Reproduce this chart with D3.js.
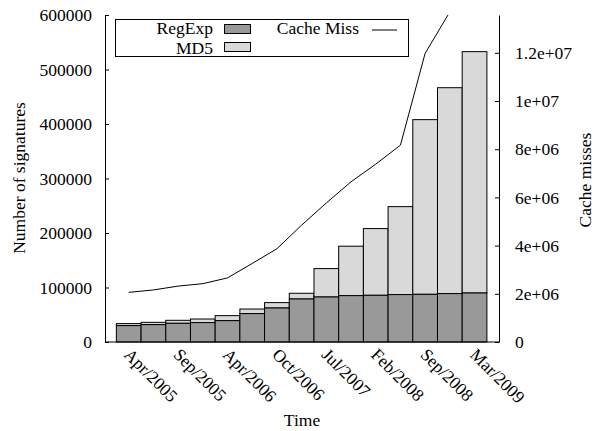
<!DOCTYPE html>
<html>
<head>
<meta charset="utf-8">
<script src="https://cdn.jsdelivr.net/npm/d3@7"></script>
<style>
  body { margin: 0; background: #fff; }
  svg text { font-family: "Liberation Serif", "Times New Roman", serif; fill: #000; }
</style>
</head>
<body>
<script>
// ********************** DATA **********************
var months = ["Apr/2005", "", "Sep/2005", "", "Apr/2006", "", "Oct/2006", "",
              "Jul/2007", "", "Feb/2008", "", "Sep/2008", "", "Mar/2009"];
var regexp = [30100, 31900, 34300, 35600, 39200, 52100, 62400, 78900,
              82600, 85100, 85700, 87000, 87500, 88800, 89900];
var total  = [33800, 36100, 39800, 42200, 48400, 60500, 72300, 89400,
              134700, 175800, 208100, 248400, 408000, 466600, 532800];
var cacheMiss = [2.06e6, 2.16e6, 2.32e6, 2.42e6, 2.66e6, 3.26e6, 3.87e6, 4.85e6,
                 5.77e6, 6.65e6, 7.38e6, 8.17e6, 11.98e6, 13.7e6, 16.0e6];
var leftTicks = [0, 100000, 200000, 300000, 400000, 500000, 600000];
var rightTicks = [0, 2e6, 4e6, 6e6, 8e6, 10e6, 12e6];
var rightLabels = ["0", "2e+06", "4e+06", "6e+06", "8e+06", "1e+07", "1.2e+07"];

// ********************** LAYOUT **********************
var width = 599, height = 431;
var plotLeft = 105, plotRight = 499, plotTop = 15, plotBottom = 342;
var fontSize = "17.5px";
var serif = "'Liberation Serif', 'Times New Roman', serif";

var svg = d3.select("body").append("svg")
    .attr("width", width)
    .attr("height", height)
    .attr("font-family", serif);

var x = d3.scaleLinear()
    .domain([-0.96, 14.99])
    .range([plotLeft, plotRight]);
var y = d3.scaleLinear()
    .domain([0, 600000])
    .range([plotBottom, plotTop]);
var y2 = d3.scaleLinear()
    .domain([0, 1.357e7])
    .range([plotBottom, plotTop]);

var barW = x(1) - x(0);

svg.append("clipPath").attr("id", "plot-clip")
  .append("rect")
  .attr("x", plotLeft).attr("y", plotTop)
  .attr("width", plotRight - plotLeft).attr("height", plotBottom - plotTop);

// MD5 part (stacked on top of regexp)
svg.selectAll("rect.md5")
  .data(total)
  .enter().append("rect")
  .attr("class", "md5")
  .attr("x", (d, i) => x(i) - barW / 2)
  .attr("y", d => y(d))
  .attr("width", barW)
  .attr("height", (d, i) => y(regexp[i]) - y(d))
  .attr("fill", "#d9d9d9")
  .attr("stroke", "#000")
  .attr("stroke-width", 1);

// RegExp part
svg.selectAll("rect.regexp")
  .data(regexp)
  .enter().append("rect")
  .attr("class", "regexp")
  .attr("x", (d, i) => x(i) - barW / 2)
  .attr("y", d => y(d))
  .attr("width", barW)
  .attr("height", d => plotBottom - y(d))
  .attr("fill", "#999999")
  .attr("stroke", "#000")
  .attr("stroke-width", 1);

// Cache miss line
var line = d3.line()
  .x((d, i) => x(i))
  .y(d => y2(d));

svg.append("path")
  .datum(cacheMiss)
  .attr("clip-path", "url(#plot-clip)")
  .attr("d", line)
  .attr("fill", "none")
  .attr("stroke", "#000")
  .attr("stroke-width", 1);

// ********************** AXES **********************
var leftAxis = svg.append("g")
  .attr("transform", "translate(" + plotLeft + ",0)")
  .call(d3.axisLeft(y).tickValues(leftTicks).tickSizeInner(-4).tickSizeOuter(0).tickPadding(13)
    .tickFormat(d3.format("d")));

var rightAxis = svg.append("g")
  .attr("transform", "translate(" + plotRight + ",0)")
  .call(d3.axisRight(y2).tickValues(rightTicks).tickSizeInner(-4).tickSizeOuter(0).tickPadding(16)
    .tickFormat((d, i) => rightLabels[i]));

[leftAxis, rightAxis].forEach(function(g) {
  g.attr("font-family", serif).attr("font-size", fontSize);
  g.select(".domain").attr("stroke", "#000");
  g.selectAll(".tick line").attr("stroke", "#000");
  g.selectAll(".tick text").style("font-family", serif);
});

// bottom axis line
svg.append("line")
  .attr("x1", plotLeft).attr("x2", plotRight)
  .attr("y1", plotBottom).attr("y2", plotBottom)
  .attr("stroke", "#000");

// x labels, rotated
svg.selectAll("text.xlabel")
  .data(months)
  .enter().append("text")
  .attr("class", "xlabel")
  .attr("transform", (d, i) => "translate(" + (x(i) + 3) + "," + (plotBottom + 5) + ") rotate(45)")
  .attr("text-anchor", "start")
  .attr("dy", "0.7em")
  .style("font-size", fontSize)
  .text(d => d);

// axis titles
svg.append("text")
  .attr("x", 302)
  .attr("y", 426)
  .attr("text-anchor", "middle")
  .style("font-size", fontSize)
  .text("Time");

svg.append("text")
  .attr("transform", "translate(25,178) rotate(-90)")
  .attr("text-anchor", "middle")
  .style("font-size", fontSize)
  .text("Number of signatures");

svg.append("text")
  .attr("transform", "translate(591,180) rotate(-90)")
  .attr("text-anchor", "middle")
  .style("font-size", fontSize)
  .text("Cache misses");

// ********************** LEGEND **********************
var legend = svg.append("g");
legend.append("rect")
  .attr("x", 115.5).attr("y", 19.5)
  .attr("width", 293).attr("height", 37)
  .attr("fill", "#fff").attr("stroke", "#000");

var legendItems = [
  { name: "RegExp", fill: "#999999", y: 29, ty: 28.5 },
  { name: "MD5", fill: "#d9d9d9", y: 47, ty: 48 }
];
legendItems.forEach(function(item) {
  legend.append("text")
    .attr("x", 213).attr("y", item.ty)
    .attr("dy", "0.32em")
    .attr("text-anchor", "end")
    .style("font-size", fontSize)
    .text(item.name);
  legend.append("rect")
    .attr("x", 224.5).attr("y", item.y - 4.5)
    .attr("width", 26).attr("height", 9)
    .attr("fill", item.fill).attr("stroke", "#000");
});

legend.append("text")
  .attr("x", 359).attr("y", 28.5)
  .attr("dy", "0.32em")
  .attr("text-anchor", "end")
  .style("font-size", fontSize)
  .text("Cache Miss");
legend.append("line")
  .attr("x1", 372).attr("x2", 397)
  .attr("y1", 30).attr("y2", 30)
  .attr("stroke", "#000");
</script>
</body>
</html>
